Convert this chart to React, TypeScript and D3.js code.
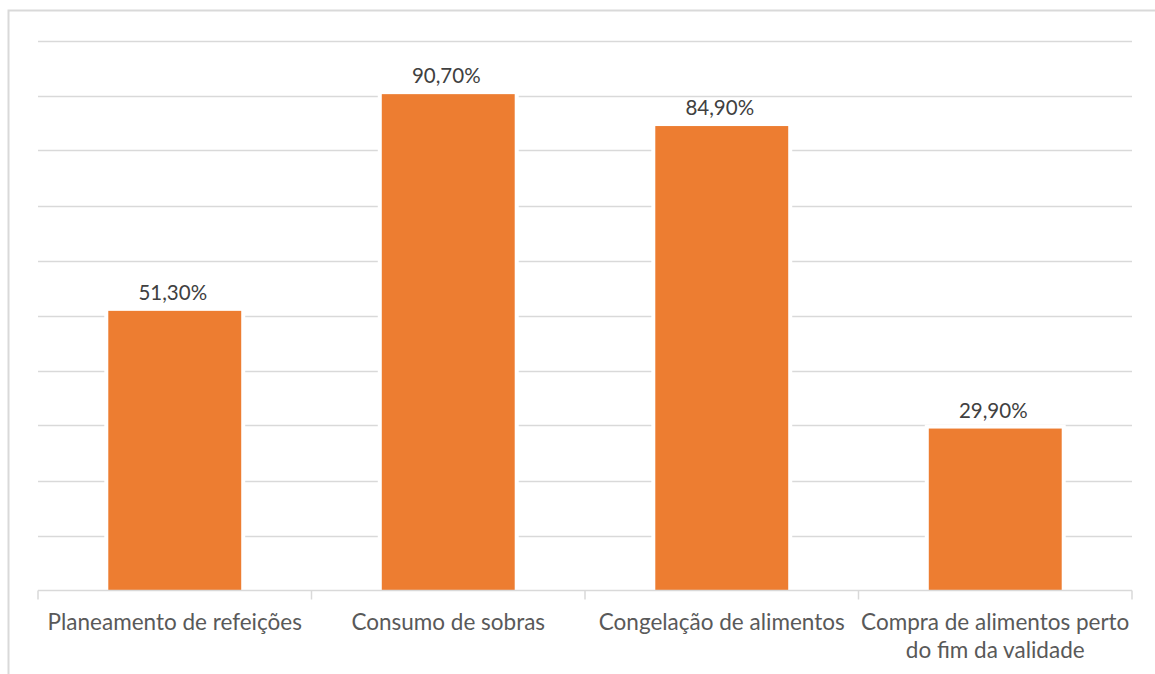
import React from "react";
import * as d3 from "d3";

const categories: string[][] = [
  ["Planeamento de refeições"],
  ["Consumo de sobras"],
  ["Congelação de alimentos"],
  ["Compra de alimentos perto", "do fim da validade"],
];
const values: number[] = [51.3, 90.7, 84.9, 29.9];
const valueLabels: string[] = ["51,30%", "90,70%", "84,90%", "29,90%"];
const gridTicks: number[] = [0, 10, 20, 30, 40, 50, 60, 70, 80, 90, 100];

const W = 1155;
const H = 674;
const left = 38;
const right = 1132;
const top = 40.5;
const bottom = 590.5;

export default function App() {
  const x = d3
    .scaleBand<number>()
    .domain(values.map((_, i) => i))
    .range([left, right])
    .padding(0);
  const y = d3.scaleLinear().domain([0, 100]).range([bottom, top]);
  const bw = x.bandwidth() * 0.486;
  const font = "Lato, 'Open Sans', sans-serif";

  return (
    <svg
      width={W}
      height={H}
      style={{ position: "absolute", left: 0, top: 0, display: "block", background: "#fff" }}
    >
      <rect x={8.5} y={10.5} width={W + 20} height={H + 20} fill="#fff" stroke="#d9d9d9" strokeWidth={2} />
      {gridTicks.slice(1).map((t) => (
        <line
          key={t}
          x1={left}
          x2={right}
          y1={Math.round(y(t)) + 0.5}
          y2={Math.round(y(t)) + 0.5}
          stroke="#d9d9d9"
          strokeWidth={1.5}
        />
      ))}
      {values.map((v, i) => {
        const cx = (x(i) as number) + x.bandwidth() / 2;
        const yt = y(v) + 2.5;
        return (
          <g key={i}>
            <rect
              x={cx - bw / 2}
              y={yt}
              width={bw}
              height={y(0) - yt}
              fill="#ED7D31"
              stroke="#fff"
              strokeWidth={8}
            />
            <rect x={cx - bw / 2} y={yt} width={bw} height={y(0) - yt} fill="#ED7D31" />
            <text
              x={cx - 2}
              y={yt - 11}
              textAnchor="middle"
              fontFamily={font}
              fontSize={20.5}
              fill="#404040"
            >
              {valueLabels[i]}
            </text>
          </g>
        );
      })}
      <line x1={left} x2={right} y1={bottom} y2={bottom} stroke="#d9d9d9" strokeWidth={1.5} />
      {d3.range(values.length + 1).map((i) => {
        const tx = i < values.length ? (x(i) as number) : right;
        return (
          <line key={i} x1={tx} x2={tx} y1={bottom} y2={bottom + 9} stroke="#d9d9d9" strokeWidth={1.5} />
        );
      })}
      {categories.map((lines, i) => {
        const cx = (x(i) as number) + x.bandwidth() / 2;
        return (
          <text key={i} textAnchor="middle" fontFamily={font} fontSize={22.5} fill="#595959">
            {lines.map((l, j) => (
              <tspan key={j} x={cx} y={630 + j * 28}>
                {l}
              </tspan>
            ))}
          </text>
        );
      })}
    </svg>
  );
}
